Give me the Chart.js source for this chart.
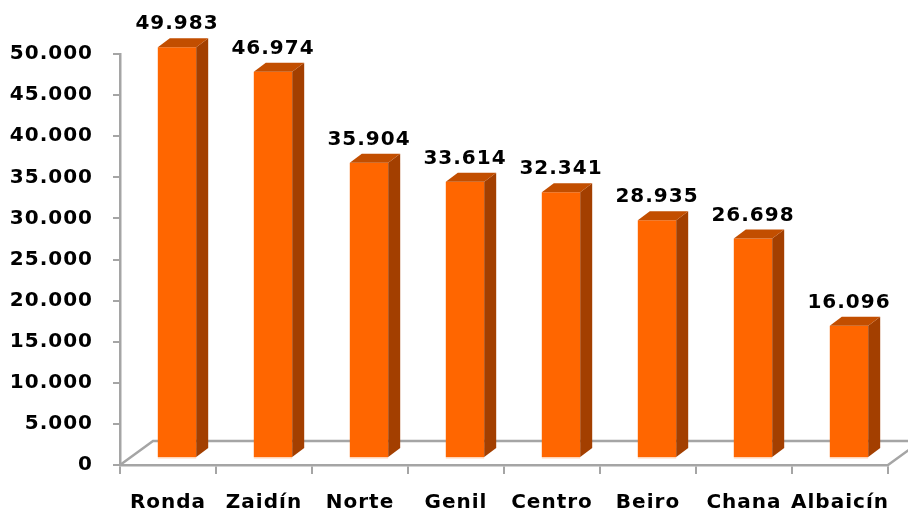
<!DOCTYPE html>
<html>
<head>
<meta charset="utf-8">
<script src="https://cdn.jsdelivr.net/npm/chart.js@4"></script>
<style>
  html, body { margin: 0; padding: 0; background: #fff; }
  #wrap { width: 908px; height: 514px; }
</style>
</head>
<body>
<div id="wrap"><canvas id="chart" width="908" height="514"></canvas></div>
<script>
/* ── data ────────────────────────────────────────────────── */

const CATEGORIES = ["Ronda", "Zaidín", "Norte", "Genil", "Centro", "Beiro", "Chana", "Albaicín"];
const POPULATION = [49983, 46974, 35904, 33614, 32341, 28935, 26698, 16096];
const Y_MIN  = 0;
const Y_MAX  = 50000;
const Y_STEP = 5000;

/* ── style ───────────────────────────────────────────────── */

const FRONT = "#FF6600";
const SIDE  = "#A33F00";
const TOP   = "#C24E00";
const GRAY  = "#A5A5A5";
const FONT  = { family: "'DejaVu Sans', Verdana, sans-serif", size: 20, weight: "bold" };

const DEPTH_X = 12, DEPTH_Y = 9;     // bar depth
const FLOOR_X = 33, FLOOR_Y = 24;    // floor depth
const SHIFT_X = 9,  SHIFT_Y = 7;     // bars sit mid-depth on the floor

function fmt(n) {
  return String(n).replace(/\B(?=(\d{3})+(?!\d))/g, ".");
}

function spacing(chart) { chart.ctx.letterSpacing = "1px"; }

/* ── 3d plugin ───────────────────────────────────────────── */

const bars3d = {
  id: "bars3d",
  beforeUpdate: spacing,
  beforeDraw: spacing,
  beforeDatasetsDraw(chart) {
    const { ctx, chartArea: a } = chart;
    ctx.save();
    ctx.strokeStyle = GRAY;
    ctx.lineWidth = 2.5;
    ctx.beginPath();
    ctx.moveTo(a.left, a.bottom);
    ctx.lineTo(a.left + FLOOR_X, a.bottom - FLOOR_Y);
    ctx.lineTo(chart.width, a.bottom - FLOOR_Y);
    ctx.moveTo(a.right, a.bottom);
    ctx.lineTo(a.right + FLOOR_X, a.bottom - FLOOR_Y);
    ctx.stroke();
    ctx.restore();
    ctx.save();
    ctx.translate(SHIFT_X, -SHIFT_Y);
  },
  afterDatasetsDraw(chart) {
    const { ctx } = chart;
    const meta = chart.getDatasetMeta(0);
    meta.data.forEach((bar, i) => {
      const l = bar.x - bar.width / 2, r = bar.x + bar.width / 2;
      const t = bar.y, b = bar.base;

      ctx.fillStyle = SIDE;
      ctx.beginPath();
      ctx.moveTo(r, b);
      ctx.lineTo(r + DEPTH_X, b - DEPTH_Y);
      ctx.lineTo(r + DEPTH_X, t - DEPTH_Y);
      ctx.lineTo(r, t);
      ctx.closePath();
      ctx.fill();

      ctx.fillStyle = TOP;
      ctx.beginPath();
      ctx.moveTo(l, t);
      ctx.lineTo(l + DEPTH_X, t - DEPTH_Y);
      ctx.lineTo(r + DEPTH_X, t - DEPTH_Y);
      ctx.lineTo(r, t);
      ctx.closePath();
      ctx.fill();

      ctx.fillStyle = "#FFD3B5";
      ctx.fillRect(l, b, bar.width, 1.5);

      ctx.fillStyle = "#000";
      ctx.font = `${FONT.weight} ${FONT.size}px ${FONT.family}`;
      ctx.textAlign = "center";
      ctx.textBaseline = "middle";
      ctx.fillText(fmt(POPULATION[i]), bar.x, t - 23);
    });
    ctx.restore();
  },
};

/* ── chart ───────────────────────────────────────────────── */

new Chart(document.getElementById("chart"), {
  type: "bar",
  data: {
    labels: CATEGORIES,
    datasets: [{
      data: POPULATION,
      backgroundColor: FRONT,
      borderWidth: 0,
      categoryPercentage: 1,
      barPercentage: 0.4,
      clip: false,
    }],
  },
  options: {
    responsive: false,
    animation: false,
    layout: { padding: { top: 54, right: 20, left: 0, bottom: 0 } },
    plugins: { legend: { display: false }, tooltip: { enabled: false } },
    scales: {
      x: {
        grid: { drawOnChartArea: false, color: GRAY, lineWidth: 2, tickLength: 9 },
        border: { color: GRAY, width: 2.5 },
        ticks: { color: "#000", font: FONT, padding: 17, maxRotation: 0, autoSkip: false },
        afterFit(s) { s.height = 49; },
      },
      y: {
        min: Y_MIN,
        max: Y_MAX,
        grid: { drawOnChartArea: false, color: GRAY, lineWidth: 2, tickLength: 7 },
        border: { color: GRAY, width: 2.5 },
        ticks: { stepSize: Y_STEP, color: "#000", font: FONT, padding: 20, callback: v => fmt(v) },
        afterFit(s) { s.width = 120; },
      },
    },
  },
  plugins: [bars3d],
});
</script>
</body>
</html>
